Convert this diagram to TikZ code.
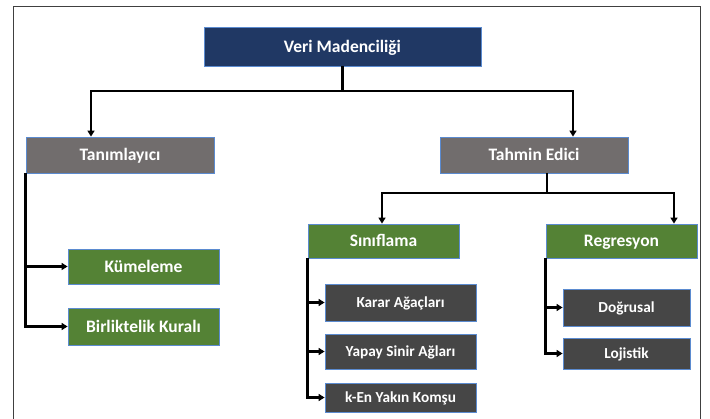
\documentclass[tikz,border=0pt]{standalone}
\usepackage{fontspec}
\setmainfont{Carlito}
\usetikzlibrary{arrows.meta}
\definecolor{navy}{HTML}{203864}
\definecolor{midgray}{HTML}{716D6D}
\definecolor{leafgreen}{HTML}{548235}
\definecolor{leafgray}{HTML}{464646}
\definecolor{edgeblue}{HTML}{5B8BD0}
\tikzset{
  box/.style={draw=edgeblue, line width=0.8pt, text=white, font=\bfseries\fontsize{17.5}{19}\selectfont, inner sep=0pt, text height=11.3pt, text depth=0pt, anchor=center},
  topbox/.style={box, fill=navy},
  midbox/.style={box, fill=midgray},
  greenbox/.style={box, fill=leafgreen},
  leafbox/.style={box, fill=leafgray, font=\bfseries\fontsize{15.3}{17}\selectfont, text height=9.9pt},
  conn/.style={line width=2.3pt, black},
  arr/.style={conn, -{Triangle[length=6pt,width=7pt]}},
  frameline/.style={line width=1pt, black!75}
}
\begin{document}
\begin{tikzpicture}[x=1pt,y=-1pt]
\useasboundingbox (0,0) rectangle (710,419);
\fill[white] (0,0) rectangle (710,419);
\draw[frameline] (13,419) -- (13,7) -- (700,7) -- (700,419);

\node[topbox, minimum width=277pt, minimum height=39pt] (veri) at (342.5,46.5) {Veri Madenciliği};
\node[midbox, minimum width=188pt, minimum height=36pt] (tan) at (120,155) {Tanımlayıcı};
\node[midbox, minimum width=188pt, minimum height=36pt] (tah) at (534,155) {Tahmin Edici};
\node[greenbox, minimum width=151pt, minimum height=35pt] (kum) at (143.5,266.5) {Kümeleme};
\node[greenbox, minimum width=151pt, minimum height=37pt] (bir) at (143.5,326.5) {Birliktelik Kuralı};
\node[greenbox, minimum width=151pt, minimum height=34pt] (sin) at (383.5,241) {Sınıflama};
\node[greenbox, minimum width=151pt, minimum height=34pt] (reg) at (621.5,241) {Regresyon};
\node[leafbox, minimum width=151pt, minimum height=37pt] (kar) at (400.5,302.5) {Karar Ağaçları};
\node[leafbox, minimum width=151pt, minimum height=35pt] (yap) at (400.5,351.5) {Yapay Sinir Ağları};
\node[leafbox, minimum width=151pt, minimum height=29pt] (ken) at (400.5,397.5) {k-En Yakın Komşu};
\node[leafbox, minimum width=127pt, minimum height=37pt] (dog) at (626.5,307.5) {Doğrusal};
\node[leafbox, minimum width=127pt, minimum height=31pt] (loj) at (626.5,353.5) {Lojistik};

% top branching
\coordinate (bL) at (91,91);
\coordinate (bR) at (573,91);
\draw[conn] (veri.south) -- (veri.south |- bL);
\draw[arr] (veri.south |- bL) -- (bL) -- (bL |- tan.north);
\draw[arr] (veri.south |- bR) -- (bR) -- (bR |- tah.north);

% Tanimlayici children
\draw[arr] (tan.south west) |- (kum.west);
\draw[arr] (tan.south west) |- (bir.west);

% Tahmin Edici branching
\coordinate (tj) at (547,193);
\coordinate (sL) at (382,193);
\coordinate (sR) at (674,193);
\draw[conn] (tah.south -| tj) -- (tj);
\draw[arr] (tj) -- (sL) -- (sL |- sin.north);
\draw[arr] (tj) -- (sR) -- (sR |- reg.north);

% Siniflama children
\draw[arr] (sin.south west) |- (kar.west);
\draw[arr] (sin.south west) |- (yap.west);
\draw[arr] (sin.south west) |- (ken.west);

% Regresyon children
\draw[arr] (reg.south west) |- (dog.west);
\draw[arr] (reg.south west) |- (loj.west);
\end{tikzpicture}
\end{document}
